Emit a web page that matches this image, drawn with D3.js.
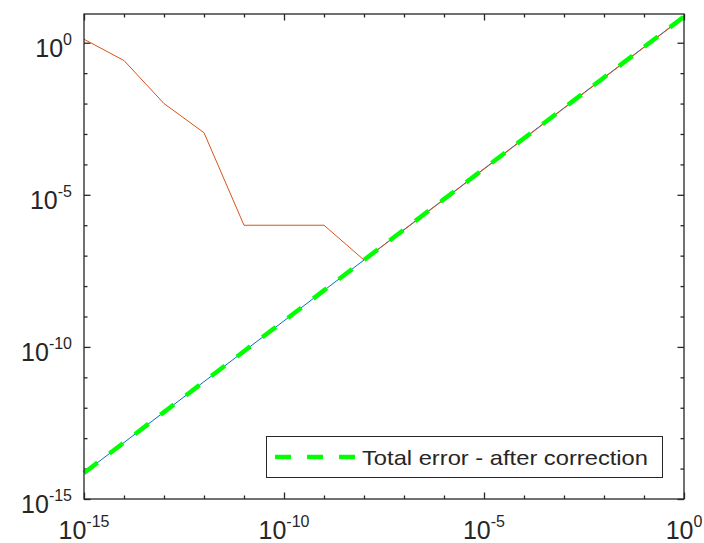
<!DOCTYPE html>
<html>
<head>
<meta charset="utf-8">
<script src="https://cdn.jsdelivr.net/npm/d3@7"></script>
<style>
  body { margin: 0; background: #fff; }
  svg text { font-family: "Liberation Sans", Arial, sans-serif; fill: #262626; }
</style>
</head>
<body>
<div id="chart"></div>
<script>
// step sizes (x) and error values
var steps = [1e-15, 1e-14, 1e-13, 1e-12, 1e-11, 1e-10, 1e-9, 1e-8,
             1e-7, 1e-6, 1e-5, 1e-4, 1e-3, 1e-2, 1e-1, 1e0];
var truncErr = [7.2e-15, 7.2e-14, 7.2e-13, 7.2e-12, 7.2e-11, 7.2e-10, 7.2e-9, 7.2e-8,
                7.2e-7, 7.2e-6, 7.2e-5, 7.2e-4, 7.2e-3, 7.2e-2, 7.2e-1, 7.2];
var totalErr = [1.3, 0.26, 0.01, 1.1e-3, 1e-6, 1e-6, 1e-6, 7.2e-8,
                7e-7, 7e-6, 7e-5, 7e-4, 7e-3, 7e-2, 7e-1, 7.0];
var correctedErr = [7.2e-15, 7.2e-14, 7.2e-13, 7.2e-12, 7.2e-11, 7.2e-10, 7.2e-9, 7.2e-8,
                    7.2e-7, 7.2e-6, 7.2e-5, 7.2e-4, 7.2e-3, 7.2e-2, 7.2e-1, 7.2];
var xTickExp = [-15, -14, -13, -12, -11, -10, -9, -8, -7, -6, -5, -4, -3, -2, -1, 0];
var xLabelExp = [-15, -10, -5, 0];
var yTickExp = [-15, -14, -13, -12, -11, -10, -9, -8, -7, -6, -5, -4, -3, -2, -1, 0];
var yLabelExp = [-15, -10, -5, 0];
var legendLabel = "Total error - after correction";

function init() {
    var w = 704, h = 543;
    var left = 84, right = 684, top = 14, bottom = 499;

    var svg = d3.select("#chart").append("svg")
        .attr("width", w).attr("height", h);

    var xscale = d3.scaleLog().domain([1e-15, 1e0]).range([left, right]);
    var yscale = d3.scaleLog().domain([1e-15, 8.8]).range([bottom, top]);

    var axisColor = "#262626";

    // axes, ticks pointing inwards
    function fixTicks(g, labeled, dir) {
        g.select(".domain").remove();
        g.selectAll("text").remove();
        g.selectAll(".tick line")
            .attr("stroke", axisColor)
            .attr("stroke-width", 1.3)
            .each(function(d) {
                var e = Math.round(Math.log10(d));
                var len = labeled.indexOf(e) >= 0 ? 6.5 : 3.5;
                var sel = d3.select(this);
                if (dir == "x") sel.attr("y2", len).attr("x2", 0);
                if (dir == "-x") sel.attr("y2", -len).attr("x2", 0);
                if (dir == "y") sel.attr("x2", len).attr("y2", 0);
                if (dir == "-y") sel.attr("x2", -len).attr("y2", 0);
            });
    }

    var xVals = xTickExp.map(function(e) { return Math.pow(10, e); });
    var yVals = yTickExp.map(function(e) { return Math.pow(10, e); });

    svg.append("g").attr("transform", "translate(0," + bottom + ")")
        .call(d3.axisBottom(xscale).tickValues(xVals))
        .call(function(g) { fixTicks(g, xLabelExp, "-x"); });
    svg.append("g").attr("transform", "translate(0," + top + ")")
        .call(d3.axisTop(xscale).tickValues(xVals))
        .call(function(g) { fixTicks(g, xLabelExp, "x"); });
    svg.append("g").attr("transform", "translate(" + left + ",0)")
        .call(d3.axisLeft(yscale).tickValues(yVals))
        .call(function(g) { fixTicks(g, yLabelExp, "y"); });
    svg.append("g").attr("transform", "translate(" + right + ",0)")
        .call(d3.axisRight(yscale).tickValues(yVals))
        .call(function(g) { fixTicks(g, yLabelExp, "-y"); });

    // lines
    var pts = function(arr) { return steps.map(function(s, i) { return [s, arr[i]]; }); };
    var line = d3.line()
        .x(function(d) { return xscale(d[0]); })
        .y(function(d) { return yscale(d[1]); });

    svg.append("path").attr("d", line(pts(truncErr)))
        .attr("fill", "none").attr("stroke", "#0072BD").attr("stroke-width", 1);
    svg.append("path").attr("d", line(pts(totalErr)))
        .attr("fill", "none").attr("stroke", "#D95319").attr("stroke-width", 1);
    svg.append("path").attr("d", line(pts(correctedErr)))
        .attr("fill", "none").attr("stroke", "#00FF00").attr("stroke-width", 4.5)
        .attr("stroke-dasharray", "17,15");

    // box
    svg.append("rect")
        .attr("x", left).attr("y", top)
        .attr("width", right - left).attr("height", bottom - top)
        .attr("fill", "none").attr("stroke", axisColor).attr("stroke-width", 1.3);

    // tick labels 10^n
    xLabelExp.forEach(function(e) {
        var t = svg.append("text")
            .attr("x", xscale(Math.pow(10, e)))
            .attr("y", 539)
            .attr("text-anchor", "middle")
            .attr("font-size", 25);
        t.append("tspan").text("10");
        t.append("tspan").attr("dy", -12).attr("font-size", 16).text(e == 0 ? "0" : "-" + (-e));
    });
    yLabelExp.forEach(function(e) {
        var t = svg.append("text")
            .attr("x", 72)
            .attr("y", yscale(Math.pow(10, e)) + 14)
            .attr("text-anchor", "end")
            .attr("font-size", 25);
        t.append("tspan").text("10");
        t.append("tspan").attr("dy", -12).attr("font-size", 16).text(e == 0 ? "0" : "-" + (-e));
    });

    // legend
    var lg = svg.append("g");
    lg.append("rect")
        .attr("x", 266.5).attr("y", 436.5)
        .attr("width", 396).attr("height", 41)
        .attr("fill", "#fff").attr("stroke", axisColor).attr("stroke-width", 1);
    lg.append("line")
        .attr("x1", 275).attr("x2", 355)
        .attr("y1", 457).attr("y2", 457)
        .attr("stroke", "#00FF00").attr("stroke-width", 4.5)
        .attr("stroke-dasharray", "16,16");
    lg.append("text")
        .attr("x", 362).attr("y", 465)
        .attr("font-size", 21)
        .attr("textLength", 286)
        .attr("lengthAdjust", "spacingAndGlyphs")
        .text(legendLabel);
}

window.onload = init;
</script>
</body>
</html>
